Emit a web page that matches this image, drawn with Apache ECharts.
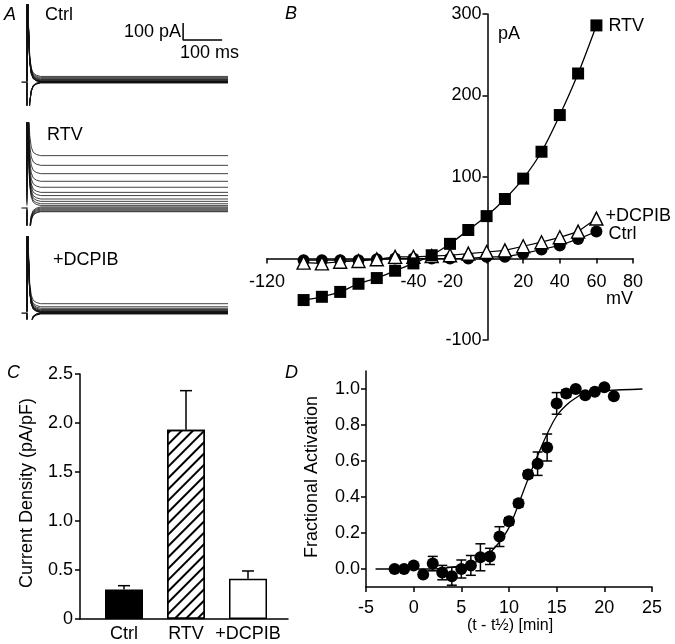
<!DOCTYPE html>
<html><head><meta charset="utf-8">
<script src="https://cdn.jsdelivr.net/npm/echarts@6/dist/echarts.min.js"></script>
<style>html,body{margin:0;padding:0;background:#fff}#c{width:675px;height:644px}</style>
</head><body><div id="c"></div>
<script>
// ---------- Panel A: current traces (pA vs ms) ----------
const traceTimes = [0, 0.8, 2, 4, 7, 11, 16, 24, 35];
const transientAmp = [0, 4000, 900, 300, 120, 50, 20, 7, 0];
const traceEnd = 515;
const ctrlTraceLevels = [33, 26, 20, 15, 11, 8, 5, 3, 2, 1, 0, 0, -1, -2, -3, -4, -5];
const rtvTraceLevels = [308, 251, 202, 157, 122, 92, 73, 53, 39, 25, 14, 6, 0, -6, -12, -18, -22];
const dcpibTraceLevels = [55, 37, 28, 21, 16, 12, 10, 8, 6, 4, 3, 2, 1, -1, -3, -4, -5];
const transientSign = [1, 1, 1, 1, 1, 1, 1, 1, 1, 1, 1, -1, -1, -1, -1, -1, -1];
const scaleBar = [[400, 347], [400, 247], [500, 247]];   // 100 ms x 100 pA
const zeroMark = [[-14, 0], [-1, 0]];

// ---------- Panel B: I-V relation ----------
const voltages = [-100, -90, -80, -70, -60, -50, -40, -30, -20, -10, 0, 10, 20, 30, 40, 50, 60];
const ivRTV = [-51, -47, -41, -31, -24, -15, -6, 4, 18, 35, 52, 73, 98, 131, 176, 227, 286];
const ivCtrl = [-2, -2, -2, -2, -1, 0, 0, 0, 0, 0, 2, 2, 6, 11, 16, 24, 33];
const ivDCPIB = [-5, -6, -4, -3, -1, 2, 2, 3, 4, 6, 8, 10, 15, 20, 26, 33, 49];

// ---------- Panel C: current density ----------
const groups = ['Ctrl', 'RTV', '+DCPIB'];
const density = [0.30, 1.93, 0.41];
const densitySEM = [0.04, 0.40, 0.08];

// ---------- Panel D: fractional activation ----------
const dTime = [-2, -1, 0, 1, 2, 3, 4, 5, 6, 7, 8, 9, 10, 11, 12, 13, 14, 15, 16, 17, 18, 19, 20, 21];
const dFrac = [0.00, 0.00, 0.02, -0.03, 0.03, -0.02, -0.04, 0.00, 0.02, 0.065, 0.07, 0.18, 0.265, 0.365, 0.525, 0.585, 0.675, 0.92, 0.975, 1.00, 0.965, 0.985, 1.01, 0.96];
const dErr = [0.01, 0.01, 0.01, 0.01, 0.04, 0.04, 0.05, 0.05, 0.055, 0.075, 0.045, 0.055, 0.02, 0.02, 0.02, 0.065, 0.075, 0.06, 0.02, 0.01, 0.01, 0.01, 0.01, 0.01];
const fitTime = [-4, 2, 4, 6, 7, 8, 9, 10, 11, 12, 13, 14, 15, 16, 17, 18, 20, 24];
const fitFrac = [0, 0, 0.01, 0.03, 0.05, 0.09, 0.15, 0.23, 0.36, 0.50, 0.63, 0.75, 0.85, 0.91, 0.95, 0.98, 0.99, 1.0];

const FONT = '"Liberation Sans", Arial, sans-serif';
const FS = 18;
const chart = echarts.init(document.getElementById('c'), null, {renderer: 'canvas'});

function traceSeries(levels, idx) {
  return levels.map((lv, i) => {
    const pts = traceTimes.map((t, k) => [t, lv + transientSign[i] * transientAmp[k]]);
    pts.push([traceEnd, lv]);
    return {type: 'line', xAxisIndex: idx, yAxisIndex: idx, data: pts, showSymbol: false,
      clip: true, silent: true, animation: false,
      lineStyle: {color: '#111', width: 0.8}};
  });
}
function simpleLine(data, idx, w) {
  return {type: 'line', xAxisIndex: idx, yAxisIndex: idx, data: data, showSymbol: false,
    silent: true, animation: false, lineStyle: {color: '#000', width: w}};
}

const hiddenX = {type: 'value', min: -14, max: traceEnd, show: false};
const axisLine = {show: true, onZero: false, lineStyle: {color: '#000', width: 1.5}};
const tickStyle = {show: true, length: 5, lineStyle: {color: '#000', width: 1.5}};
const lbl = {color: '#000', fontSize: FS, fontFamily: FONT};

function errorBarSeries(xi, data, capW) {
  return {
    type: 'custom', xAxisIndex: xi, yAxisIndex: xi, data: data, silent: true, animation: false,
    renderItem: function (params, api) {
      const x = api.value(0), lo = api.value(1), hi = api.value(2);
      const pLo = api.coord([x, lo]), pHi = api.coord([x, hi]);
      const st = {stroke: '#000', lineWidth: 1.5};
      const ch = [{type: 'line', shape: {x1: pLo[0], y1: pLo[1], x2: pHi[0], y2: pHi[1]}, style: st}];
      if (capW > 0) ch.push({type: 'line', shape: {x1: pHi[0] - capW / 2, y1: pHi[1], x2: pHi[0] + capW / 2, y2: pHi[1]}, style: st});
      return {type: 'group', children: ch};
    }
  };
}

const series = [];
series.push(...traceSeries(ctrlTraceLevels, 0));
series.push(...traceSeries(rtvTraceLevels, 1));
series.push(...traceSeries(dcpibTraceLevels, 2));
series.push(simpleLine(zeroMark, 0, 1.2), simpleLine(zeroMark, 1, 1.2), simpleLine(zeroMark, 2, 1.2));
series.push(simpleLine(scaleBar, 0, 1.5));

// Panel B
const endLbl = (txt, off, d) => ({show: true, formatter: txt, color: '#000', fontSize: FS, fontFamily: FONT, distance: d, offset: off});
series.push({type: 'line', name: 'Ctrl', xAxisIndex: 3, yAxisIndex: 3, data: voltages.map((v, i) => [v, ivCtrl[i]]),
  symbol: 'circle', symbolSize: 12, itemStyle: {color: '#000'}, lineStyle: {color: '#000', width: 1.2},
  endLabel: endLbl('Ctrl', [0, 2], 12), animation: false, z: 3});
series.push({type: 'line', name: '+DCPIB', xAxisIndex: 3, yAxisIndex: 3, data: voltages.map((v, i) => [v, ivDCPIB[i]]),
  symbol: 'triangle', symbolSize: 13, itemStyle: {color: '#fff', borderColor: '#000', borderWidth: 1.4},
  lineStyle: {color: '#000', width: 1.2}, endLabel: endLbl('+DCPIB', [0, -3], 9), animation: false, z: 4});
series.push({type: 'line', name: 'RTV', xAxisIndex: 3, yAxisIndex: 3, data: voltages.map((v, i) => [v, ivRTV[i]]),
  symbol: 'rect', symbolSize: 12, smooth: 0.3, itemStyle: {color: '#000'}, lineStyle: {color: '#000', width: 1.3},
  endLabel: endLbl('RTV', [0, 1], 12), animation: false, z: 5});

// Panel C
series.push({type: 'bar', xAxisIndex: 5, yAxisIndex: 5, barWidth: 38, animation: false, silent: true,
  data: density.map((v, i) => ({value: v, itemStyle: i === 0 ? {color: '#000', borderColor: '#000', borderWidth: 1.5}
    : i === 1 ? {color: '#fff', borderColor: '#000', borderWidth: 1.5,
        decal: {symbol: 'rect', symbolSize: 1, dashArrayX: [1, 0], dashArrayY: [2, 6], rotation: -Math.PI / 4, color: '#000'}}
    : {color: '#fff', borderColor: '#000', borderWidth: 1.5}}))});
series.push(errorBarSeries(5, density.map((v, i) => [i, v, v + densitySEM[i]]), 12));

// Panel D
series.push(errorBarSeries(6, dTime.map((t, i) => [t, dFrac[i] - dErr[i], dFrac[i] + dErr[i]]), 0));
series.push({type: 'custom', xAxisIndex: 6, yAxisIndex: 6, silent: true, animation: false,
  data: dTime.map((t, i) => [t, dFrac[i] - dErr[i], dFrac[i] + dErr[i]]),
  renderItem: function (params, api) {
    const x = api.value(0);
    const pLo = api.coord([x, api.value(1)]), pHi = api.coord([x, api.value(2)]);
    const st = {stroke: '#000', lineWidth: 1.5};
    return {type: 'group', children: [
      {type: 'line', shape: {x1: pHi[0] - 5, y1: pHi[1], x2: pHi[0] + 5, y2: pHi[1]}, style: st},
      {type: 'line', shape: {x1: pLo[0] - 5, y1: pLo[1], x2: pLo[0] + 5, y2: pLo[1]}, style: st}
    ]};
  }});
series.push({type: 'scatter', xAxisIndex: 6, yAxisIndex: 6, data: dTime.map((t, i) => [t, dFrac[i]]),
  symbol: 'circle', symbolSize: 12, itemStyle: {color: '#000', opacity: 1}, animation: false, silent: true});
series.push({type: 'line', xAxisIndex: 6, yAxisIndex: 6, data: fitTime.map((t, i) => [t, fitFrac[i]]),
  smooth: 0.4, showSymbol: false, lineStyle: {color: '#000', width: 1.3}, animation: false, silent: true});

const txt = (text, x, y, opts) => Object.assign({type: 'text', x: x, y: y, silent: true,
  style: Object.assign({text: text, fill: '#000', font: FS + 'px ' + FONT, align: 'left', verticalAlign: 'middle'}, opts || {})});
const ital = {font: 'italic ' + FS + 'px ' + FONT};

const option = {
  backgroundColor: '#fff',
  animation: false,
  textStyle: {fontFamily: FONT},
  grid: [
    {left: 21.5, top: 5, width: 206.5, height: 100},
    {left: 21.5, top: 123, width: 206.5, height: 102},
    {left: 21.5, top: 237, width: 206.5, height: 82},
    {left: 267, top: 14, width: 366, height: 326},
    {left: 80, top: 374, width: 208, height: 245},
    {left: 93, top: 374, width: 186, height: 245},
    {left: 366, top: 371, width: 286, height: 216}
  ],
  xAxis: [
    Object.assign({gridIndex: 0}, hiddenX),
    Object.assign({gridIndex: 1}, hiddenX),
    Object.assign({gridIndex: 2}, hiddenX),
    {gridIndex: 3, type: 'value', min: -120, max: 80, interval: 20, position: 'bottom', offset: -81.5,
      axisLine: axisLine, axisTick: tickStyle, splitLine: {show: false},
      axisLabel: Object.assign({margin: 15, formatter: v => ([-100, -80, -60, 0].indexOf(v) >= 0 ? '' : String(v))}, lbl)},
    {gridIndex: 4, type: 'value', min: 0, max: 1, axisLine: axisLine, axisTick: {show: false},
      axisLabel: {show: false}, splitLine: {show: false}},
    {gridIndex: 5, type: 'category', data: groups, axisLine: {show: false}, axisTick: {show: false},
      axisLabel: Object.assign({margin: 6, interval: 0}, lbl)},
    {gridIndex: 6, type: 'value', min: -5, max: 25, interval: 5, axisLine: axisLine, axisTick: tickStyle,
      splitLine: {show: false}, axisLabel: Object.assign({margin: 12}, lbl)}
  ],
  yAxis: [
    {gridIndex: 0, type: 'value', min: -135, max: 453, show: false},
    {gridIndex: 1, type: 'value', min: -100, max: 500, show: false},
    {gridIndex: 2, type: 'value', min: -35, max: 447, show: false},
    {gridIndex: 3, type: 'value', min: -100, max: 300, interval: 100, position: 'left', offset: -220.5,
      axisLine: axisLine, axisTick: tickStyle, splitLine: {show: false},
      axisLabel: Object.assign({margin: 6, formatter: v => (v === 0 ? '' : String(v))}, lbl)},
    {gridIndex: 4, type: 'value', min: 0, max: 2.5, interval: 0.5, axisLine: axisLine, axisTick: tickStyle,
      splitLine: {show: false}, axisLabel: Object.assign({margin: 7, formatter: v => (v === 0 ? '0' : v.toFixed(1))}, lbl)},
    {gridIndex: 5, type: 'value', min: 0, max: 2.5, show: false},
    {gridIndex: 6, type: 'value', min: -0.1, max: 1.1, axisLine: axisLine,
      axisTick: Object.assign({customValues: [0, 0.2, 0.4, 0.6, 0.8, 1.0]}, tickStyle), splitLine: {show: false},
      axisLabel: Object.assign({margin: 6, customValues: [0, 0.2, 0.4, 0.6, 0.8, 1.0], formatter: v => v.toFixed(1)}, lbl)}
  ],
  graphic: [
    txt('A', 4, 15, ital),
    txt('Ctrl', 45, 15),
    txt('RTV', 47, 135),
    txt('+DCPIB', 53, 260),
    txt('100 pA', 181, 32, {align: 'right'}),
    txt('100 ms', 180, 53),
    txt('B', 285, 14, ital),
    txt('pA', 498, 34),
    txt('mV', 606, 299),
    txt('C', 7, 373, ital),
    txt('D', 285, 373, ital),
    Object.assign(txt('Current Density (pA/pF)', 27, 493, {align: 'center'}), {rotation: Math.PI / 2}),
    Object.assign(txt('Fractional Activation', 312, 477, {align: 'center'}), {rotation: Math.PI / 2}),
    txt('(t - t½) [min]', 510, 626, {align: 'center', font: '16px ' + FONT})
  ],
  series: series
};
chart.setOption(option);
</script>
</body></html>
